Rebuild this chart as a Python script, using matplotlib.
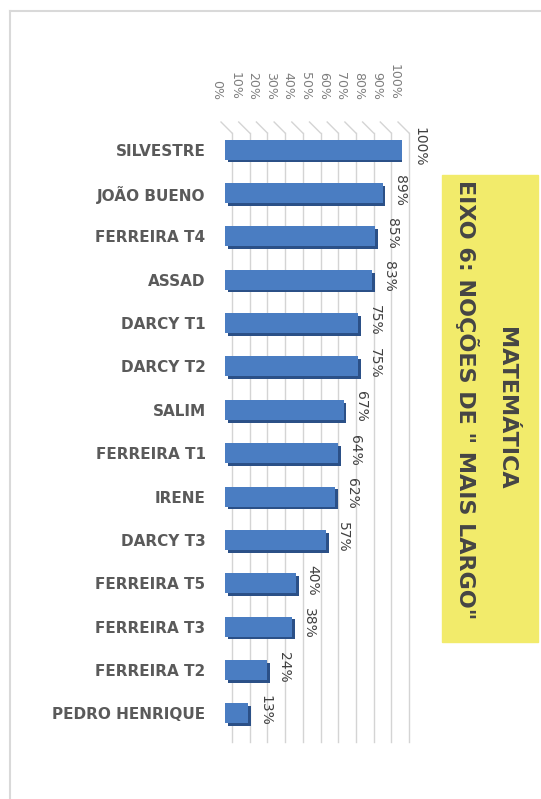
import matplotlib
matplotlib.use('Agg')
import matplotlib.pyplot as plt
import matplotlib.patheffects as pe
from matplotlib.lines import Line2D
from matplotlib.patches import Rectangle

# data (top to bottom)
schools = ['SILVESTRE', 'JOÃO BUENO', 'FERREIRA T4', 'ASSAD', 'DARCY T1', 'DARCY T2',
           'SALIM', 'FERREIRA T1', 'IRENE', 'DARCY T3', 'FERREIRA T5', 'FERREIRA T3',
           'FERREIRA T2', 'PEDRO HENRIQUE']
scores = [100, 89, 85, 83, 75, 75, 67, 64, 62, 57, 40, 38, 24, 13]
ticks = [0, 10, 20, 30, 40, 50, 60, 70, 80, 90, 100]
title1 = 'MATEMÁTICA'
title2 = 'EIXO 6: NOÇÕES DE " MAIS LARGO"'

W, H = 541, 799
fig = plt.figure(figsize=(W / 100, H / 100), dpi=100)
fig.patch.set_facecolor('white')

# plot area in pixels (front face of the 3d bars)
L, R, T, B = 225, 402, 128, 735
ax = fig.add_axes([L / W, 1 - B / H, (R - L) / W, (B - T) / H])
ax.set_facecolor('none')
ax.set_xlim(0, 100)
ax.set_ylim(len(schools) - 0.5, -0.5)

def px(v):
    return L + v * (R - L) / 100

# back wall gridlines with the little 3d slant on top
for t in ticks:
    x = px(t) + 7
    fig.add_artist(Line2D([x / W, x / W], [1 - (T + 5) / H, 1 - (B + 7) / H],
                          transform=fig.transFigure, color='#d4d4d4', lw=1, zorder=-1))
    fig.add_artist(Line2D([x / W, (x - 11) / W], [1 - (T + 5) / H, 1 - (T - 6) / H],
                          transform=fig.transFigure, color='#d4d4d4', lw=1, zorder=-1))

ypos = list(range(len(schools)))
bars = ax.barh(ypos, scores, height=0.46, color='#4a7dc2', zorder=3)
for b in bars:
    b.set_path_effects([pe.SimplePatchShadow(offset=(2, -2), shadow_rgbFace='#2b5087', alpha=1),
                        pe.Normal()])

# value labels, rotated like the rest of the sheet
for y, v in zip(ypos, scores):
    ax.annotate(f'{v}%', xy=(v, y), xytext=(17, 3), textcoords='offset pixels',
                rotation=-90, ha='center', va='center', fontsize=10, color='#404040',
                annotation_clip=False)

# top axis labels
for t in ticks:
    ax.annotate(f'{t}%', xy=(t, 1), xycoords=ax.get_xaxis_transform(),
                xytext=(-8, 28), textcoords='offset pixels', rotation=-90,
                ha='center', va='bottom', fontsize=9, color='#7f7f7f',
                annotation_clip=False)

ax.set_yticks(ypos)
ax.set_yticklabels(schools, fontsize=11, fontweight='bold', color='#5a5a5a')
ax.tick_params(axis='y', length=0, pad=14)
ax.set_xticks([])
for s in ax.spines.values():
    s.set_visible(False)

# yellow title box
fig.patches.append(Rectangle((442 / W, 1 - 642 / H), 96 / W, 467 / H,
                             transform=fig.transFigure, color='#f2eb6b', zorder=0))
fig.text(506 / W, 1 - 408 / H, title1, rotation=-90, ha='center', va='center',
         fontsize=16, fontweight='bold', color='#454545')
fig.text(467 / W, 1 - 400 / H, title2, rotation=-90, ha='center', va='center',
         fontsize=16, fontweight='bold', color='#454545')

# sheet border
fig.add_artist(Line2D([10 / W, 10 / W], [1 - 11 / H, 0], transform=fig.transFigure,
                      color='#d9d9d9', lw=1.5))
fig.add_artist(Line2D([10 / W, 1], [1 - 11 / H, 1 - 11 / H], transform=fig.transFigure,
                      color='#d9d9d9', lw=1.5))

fig.savefig('out.png', dpi=100)
